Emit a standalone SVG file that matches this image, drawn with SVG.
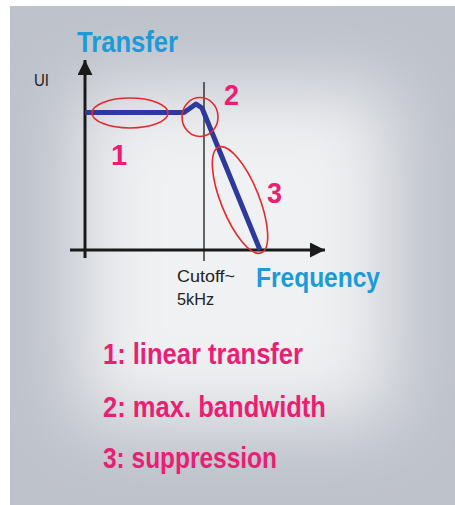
<svg xmlns="http://www.w3.org/2000/svg" width="455" height="505" viewBox="0 0 455 505">
  <defs>
    <filter id="blur" x="-50%" y="-50%" width="200%" height="200%">
      <feGaussianBlur stdDeviation="38"/>
    </filter>
    <marker id="arrow" viewBox="0 0 10 10" refX="10" refY="5" markerWidth="15" markerHeight="15" markerUnits="userSpaceOnUse" orient="auto">
      <path d="M0,0 L10,5 L0,10 Z" fill="#1a1a1a"/>
    </marker>
    <style>
      .txt { font-family: "Liberation Sans Narrow", "Liberation Sans", Arial, sans-serif; }
      .pink { fill: #ea1f74; font-weight: bold; }
      .blue { fill: #1b9bd7; font-weight: bold; }
      .dark { fill: #222222; }
      .axis { stroke: #1a1a1a; stroke-width: 3; fill: none; }
      .ring { stroke: #e42a2f; stroke-width: 1.6; fill: none; }
    </style>
  </defs>
  <rect x="0" y="0" width="455" height="505" fill="#ffffff"/>
  <rect x="10" y="6" width="445" height="499" fill="#bec2cb"/>
  <rect x="80" y="90" width="310" height="330" fill="#f0f1f3" filter="url(#blur)"/>

  <g id="title">
    <text class="txt blue" x="77" y="52" font-size="29" textLength="101" lengthAdjust="spacingAndGlyphs">Transfer</text>
  </g>
  <g id="ylabel">
    <text class="txt dark" x="34" y="86" font-size="16" textLength="15" lengthAdjust="spacingAndGlyphs">UI</text>
  </g>

  <g id="connectors">
    <line class="axis" x1="85" y1="258" x2="85" y2="60" marker-end="url(#arrow)"/>
    <line class="axis" x1="70" y1="250" x2="325" y2="250" marker-end="url(#arrow)"/>
    <line x1="204" y1="82" x2="204" y2="261" stroke="#1a1a1a" stroke-width="1.3"/>
  </g>

  <g id="curve">
    <path d="M85,112.5 L184,112.5 L196,104 L202,108 L260,250" fill="none" stroke="#2d3a9b" stroke-width="5" stroke-linejoin="round"/>
  </g>

  <g id="region1">
    <ellipse class="ring" cx="130" cy="113" rx="38" ry="15"/>
    <text class="txt pink" x="111" y="165" font-size="29">1</text>
  </g>
  <g id="region2">
    <ellipse class="ring" cx="200" cy="117" rx="18" ry="19.5"/>
    <text class="txt pink" x="224" y="105" font-size="29" textLength="15" lengthAdjust="spacingAndGlyphs">2</text>
  </g>
  <g id="region3">
    <ellipse class="ring" cx="240" cy="200" rx="57" ry="19" transform="rotate(68 240 200)"/>
    <text class="txt pink" x="267" y="203" font-size="29" textLength="15" lengthAdjust="spacingAndGlyphs">3</text>
  </g>

  <g id="cutoff">
    <text class="txt dark" x="177" y="282" font-size="17" textLength="58" lengthAdjust="spacingAndGlyphs">Cutoff~</text>
    <text class="txt dark" x="177" y="305" font-size="17" textLength="37" lengthAdjust="spacingAndGlyphs">5kHz</text>
  </g>
  <g id="xlabel">
    <text class="txt blue" x="256" y="287" font-size="28" textLength="124" lengthAdjust="spacingAndGlyphs">Frequency</text>
  </g>

  <g id="legend">
    <text class="txt pink" x="103" y="364" font-size="29" textLength="200" lengthAdjust="spacingAndGlyphs">1: linear transfer</text>
    <text class="txt pink" x="103" y="417" font-size="29" textLength="223" lengthAdjust="spacingAndGlyphs">2: max. bandwidth</text>
    <text class="txt pink" x="103" y="468" font-size="29" textLength="174" lengthAdjust="spacingAndGlyphs">3: suppression</text>
  </g>
</svg>
